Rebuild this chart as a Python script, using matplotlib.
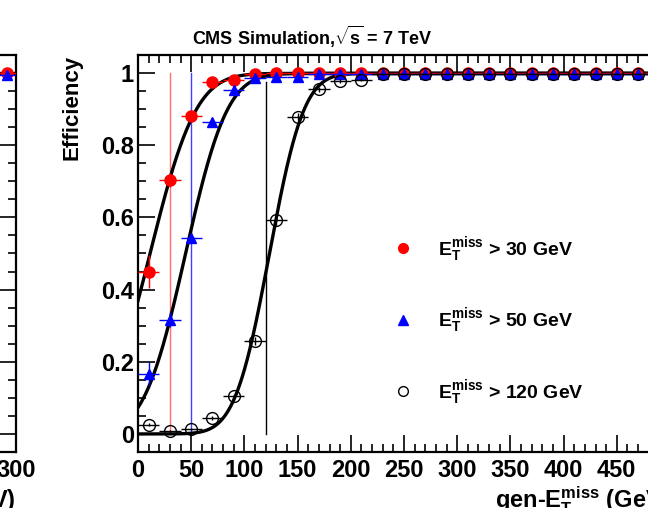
import math
import numpy as np
import matplotlib
matplotlib.use('Agg')
import matplotlib.pyplot as plt
from matplotlib.lines import Line2D
from matplotlib.ticker import MultipleLocator, FuncFormatter

# ================== DATA ==================
BIN_CENTERS = [10, 30, 50, 70, 90, 110, 130, 150, 170, 190, 210, 230, 250,
               270, 290, 310, 330, 350, 370, 390, 410, 430, 450, 470, 490]
BIN_HALF = 10

EFF_30 = [0.450, 0.703, 0.881, 0.976, 0.982, 0.998, 0.999, 0.999, 0.999, 0.999,
          0.999, 0.999, 0.999, 0.999, 0.999, 0.999, 0.999, 0.999, 0.999, 0.999,
          0.999, 0.999, 0.999, 0.999, 0.999]
ERR_30 = [0.045, 0.02, 0.012, 0.006, 0.005, 0.002, 0.001, 0.001, 0.001, 0.001,
          0.001, 0.001, 0.001, 0.001, 0.001, 0.001, 0.001, 0.001, 0.001, 0.001,
          0.001, 0.001, 0.001, 0.001, 0.001]

EFF_50 = [0.167, 0.317, 0.543, 0.865, 0.953, 0.985, 0.990, 0.990, 0.997, 0.998,
          0.998, 0.998, 0.998, 0.998, 0.998, 0.998, 0.998, 0.998, 0.998, 0.998,
          0.998, 0.998, 0.998, 0.998, 0.998]
ERR_50 = [0.032, 0.02, 0.015, 0.01, 0.006, 0.004, 0.003, 0.003, 0.002, 0.001,
          0.001, 0.001, 0.001, 0.001, 0.001, 0.001, 0.001, 0.001, 0.001, 0.001,
          0.001, 0.001, 0.001, 0.001, 0.001]

EFF_120 = [0.025, 0.008, 0.013, 0.044, 0.104, 0.258, 0.594, 0.879, 0.955, 0.978,
           0.981, 0.997, 0.998, 0.998, 0.998, 0.998, 0.998, 0.998, 0.998, 0.998,
           0.998, 0.998, 0.998, 0.998, 0.998]
ERR_120 = [0.004, 0.002, 0.003, 0.006, 0.008, 0.012, 0.014, 0.01, 0.007, 0.005,
           0.004, 0.002, 0.001, 0.001, 0.001, 0.001, 0.001, 0.001, 0.001, 0.001,
           0.001, 0.001, 0.001, 0.001, 0.001]

# fit parameters (mu, sigma, plateau) of the turn-on curves
FIT_30 = (11.3, 34.0, 0.999)
FIT_50 = (44.7, 30.8, 0.999)
FIT_120 = (123.5, 25.5, 0.999)

THRESHOLDS = [30, 50, 120]
THRESHOLD_TOP = [1.0, 1.0, 0.975]

LABELS = [r'$E_{T}^{miss}$ > 30 GeV', r'$E_{T}^{miss}$ > 50 GeV', r'$E_{T}^{miss}$ > 120 GeV']

# neighbour panel (only its right edge is visible)
LEFT_X = [295]
LEFT_EFF_A = [0.999]
LEFT_EFF_B = [0.995]

# ================== STYLE ==================
plt.rcParams['font.family'] = ['Liberation Sans', 'DejaVu Sans']
plt.rcParams['font.weight'] = 'bold'
plt.rcParams['axes.labelweight'] = 'bold'
plt.rcParams['mathtext.fontset'] = 'custom'
plt.rcParams['mathtext.rm'] = 'Liberation Sans:bold'
plt.rcParams['mathtext.bf'] = 'Liberation Sans:bold'
plt.rcParams['mathtext.it'] = 'Liberation Sans:bold'
plt.rcParams['mathtext.default'] = 'bf'

RED = '#ff0000'
BLUE = '#0000ff'

erf = np.vectorize(math.erf)


def turn_on(x, mu, sigma, plateau):
    return plateau * 0.5 * (1 + erf((x - mu) / (np.sqrt(2) * sigma)))


def style_axis(ax, xmax):
    ax.set_ylim(-0.05, 1.05)
    ax.set_xlim(0, xmax)
    ax.xaxis.set_major_locator(MultipleLocator(50))
    ax.xaxis.set_minor_locator(MultipleLocator(10))
    ax.yaxis.set_major_locator(MultipleLocator(0.2))
    ax.yaxis.set_minor_locator(MultipleLocator(0.05))
    fmt = FuncFormatter(lambda v, p: '%g' % round(v, 3))
    ax.xaxis.set_major_formatter(fmt)
    ax.yaxis.set_major_formatter(fmt)
    ax.tick_params(which='both', direction='in', top=True, right=True, width=1.2)
    ax.tick_params(which='major', length=12, labelsize=17)
    ax.tick_params(which='minor', length=6)
    ax.tick_params(axis='x', pad=5)
    ax.tick_params(axis='y', pad=3)
    for s in ax.spines.values():
        s.set_linewidth(1.6)


fig = plt.figure(figsize=(6.48, 5.08), dpi=100)

W = 532 / 648
B = 56 / 508
H = 397 / 508

# ---- neighbour panel, mostly outside the picture ----
axl = fig.add_axes([16 / 648 - W, B, W, H])
style_axis(axl, 300)
xl = np.linspace(0, 300, 300)
axl.plot(xl, turn_on(xl, *FIT_30), color='black', lw=2.4, zorder=2)
axl.errorbar(LEFT_X, LEFT_EFF_A, xerr=5, fmt='o', color=RED, ms=8, lw=1, zorder=3)
axl.errorbar(LEFT_X, LEFT_EFF_B, xerr=5, fmt='^', color=BLUE, ms=7, lw=1, zorder=4)
axl.set_xlabel(r'gen-$E_{T}^{miss}$ (GeV)', fontsize=17, loc='right', labelpad=2)

# ---- main panel ----
ax = fig.add_axes([138 / 648, B, W, H])
style_axis(ax, 500)

xf = np.linspace(0, 500, 1000)
for fit in (FIT_30, FIT_50, FIT_120):
    ax.plot(xf, turn_on(xf, *fit), color='black', lw=2.4, zorder=2)

for thr, top, col in zip(THRESHOLDS, THRESHOLD_TOP, ['#ff7070', '#4040ff', 'black']):
    ax.plot([thr, thr], [0, top], color=col, lw=1, zorder=1)

ax.errorbar(BIN_CENTERS, EFF_30, xerr=BIN_HALF, yerr=ERR_30, fmt='o', color=RED,
            ms=8, lw=1, capsize=0, zorder=3)
ax.errorbar(BIN_CENTERS, EFF_50, xerr=BIN_HALF, yerr=ERR_50, fmt='^', color=BLUE,
            ms=7.5, lw=1, capsize=0, zorder=4)
ax.errorbar(BIN_CENTERS, EFF_120, xerr=BIN_HALF, yerr=ERR_120, fmt='o', color='black',
            mfc='none', mew=1, ms=8.5, lw=1, capsize=0, zorder=5)

ax.set_xlabel(r'gen-$E_{T}^{miss}$ (GeV)', fontsize=17, loc='right', labelpad=2)

handles = [
    Line2D([], [], ls='none', marker='o', color=RED, ms=7),
    Line2D([], [], ls='none', marker='^', color=BLUE, ms=6.5),
    Line2D([], [], ls='none', marker='o', color='black', mfc='none', mew=1, ms=7),
]
ax.legend(handles, LABELS, loc='upper left', bbox_to_anchor=(382 / 648, 1 - 225 / 508),
          bbox_transform=fig.transFigure, frameon=False, fontsize=14,
          handlelength=1.2, handletextpad=1.2, labelspacing=2.2, borderpad=0)

fig.text(192 / 648, 1 - 37 / 508, r'CMS Simulation,$\sqrt{s}$ = 7 TeV', fontsize=13,
         ha='left', va='center')
fig.text(72 / 648, 1 - 55 / 508, 'Efficiency', fontsize=16, rotation=90,
         ha='center', va='top')

fig.savefig('out.png', dpi=100)
